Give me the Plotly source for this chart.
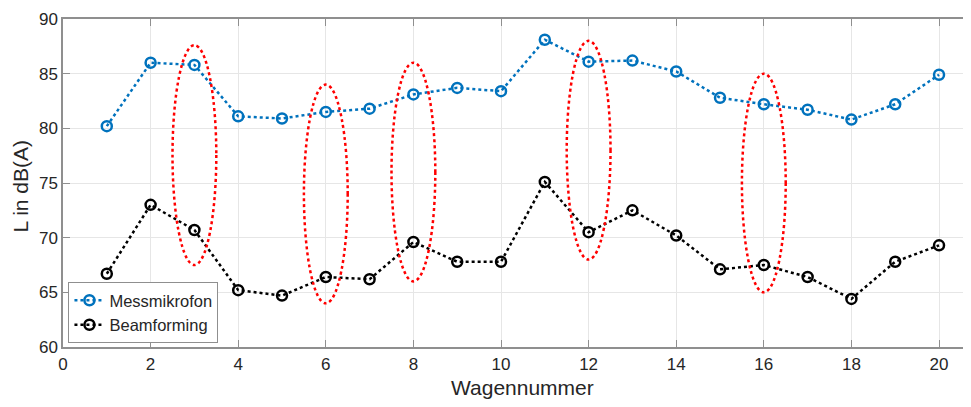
import plotly.graph_objects as go

wagen = list(range(1, 21))
messmikrofon = [80.2, 86.0, 85.8, 81.1, 80.9, 81.5, 81.8, 83.1, 83.7, 83.4,
                88.1, 86.1, 86.2, 85.2, 82.8, 82.2, 81.7, 80.8, 82.2, 84.9]
beamforming = [66.7, 73.0, 70.7, 65.2, 64.7, 66.4, 66.2, 69.6, 67.8, 67.8,
               75.1, 70.5, 72.5, 70.2, 67.1, 67.5, 66.4, 64.4, 67.8, 69.3]

# highlighted wagons (ellipses): center x, lower y, upper y
ell_x = [3, 6, 8, 12, 16]
ell_lo = [67.5, 64.0, 66.0, 68.0, 65.0]
ell_hi = [87.6, 84.0, 86.0, 88.0, 85.0]
ell_halfwidth = 0.5

x_ticks = list(range(0, 21, 2))
y_ticks = list(range(60, 91, 5))

FONT = "Liberation Sans, Arial, sans-serif"
TXT = "#262626"
AX = "#8f8f8f"
GRID = "#e6e6e6"

fig = go.Figure()
fig.add_trace(go.Scatter(
    x=wagen, y=messmikrofon, name="Messmikrofon", mode="lines+markers",
    line=dict(color="#0072BD", width=2.5, dash="dot"),
    marker=dict(symbol="circle-open", size=10, color="#0072BD", line=dict(width=2.5)),
))
fig.add_trace(go.Scatter(
    x=wagen, y=beamforming, name="Beamforming", mode="lines+markers",
    line=dict(color="#000000", width=2.5, dash="dot"),
    marker=dict(symbol="circle-open", size=10, color="#000000", line=dict(width=2.5)),
))

for cx, lo, hi in zip(ell_x, ell_lo, ell_hi):
    fig.add_shape(type="circle", xref="x", yref="y",
                  x0=cx - ell_halfwidth, x1=cx + ell_halfwidth, y0=lo, y1=hi,
                  line=dict(color="#ff0000", width=2.5, dash="dot"), layer="above")

xmax = 20.73
# page body has an 8px margin; figure is sized/offset to compensate
fig.update_layout(
    width=963, height=399,
    margin=dict(l=55, r=0, t=11, b=60, autoexpand=False),
    paper_bgcolor="white", plot_bgcolor="white",
    font=dict(family=FONT, size=17, color=TXT),
    showlegend=True,
    legend=dict(x=0.006, y=0.012, xanchor="left", yanchor="bottom",
                bgcolor="white", bordercolor=AX, borderwidth=1,
                font=dict(size=16.5, color=TXT), itemwidth=30,
                tracegroupgap=0),
    xaxis=dict(range=[0, xmax], tickvals=x_ticks, ticks="inside", ticklen=7,
               tickcolor=AX, showline=True, linecolor=AX, linewidth=1.5,
               mirror="ticks", showgrid=True, gridcolor=GRID, gridwidth=1,
               zeroline=False, tickfont=dict(size=17, color=TXT), automargin=False,
               ticklabelstandoff=1),
    yaxis=dict(range=[60, 90], tickvals=y_ticks, ticks="inside", ticklen=7,
               tickcolor=AX, showline=True, linecolor=AX, linewidth=1.5,
               mirror=False, showgrid=True, gridcolor=GRID, gridwidth=1,
               zeroline=False, tickfont=dict(size=17, color=TXT), automargin=False),
    annotations=[
        dict(text="Wagennummer", x=10.5, xref="x", y=-0.124, yref="paper",
             xanchor="center", yanchor="middle", showarrow=False,
             font=dict(size=21, color=TXT, family=FONT)),
        dict(text="L in dB(A)", x=-0.047, xref="paper", y=0.49, yref="paper",
             xanchor="center", yanchor="middle", textangle=-90, showarrow=False,
             font=dict(size=21, color=TXT, family=FONT)),
    ],
)

fig.write_html("out.html")
